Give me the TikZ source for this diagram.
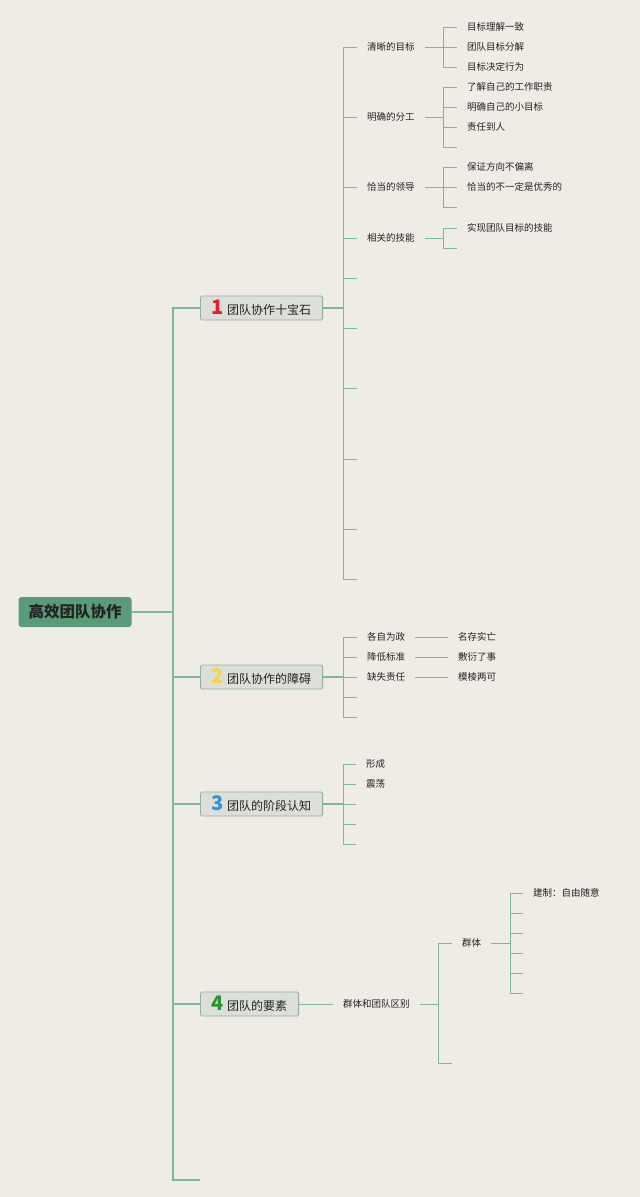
\documentclass[tikz,border=0pt]{standalone}
\usepackage{fontspec}
\setmainfont{Noto Sans CJK SC}
\usetikzlibrary{positioning, calc}
\definecolor{paper}{RGB}{239,236,230}
\definecolor{branch}{RGB}{128,182,156}
\definecolor{rootfill}{RGB}{90,156,121}
\definecolor{topicfill}{RGB}{220,222,218}
\definecolor{topicdraw}{RGB}{148,176,160}
\definecolor{inktext}{RGB}{35,35,35}
\definecolor{numred}{RGB}{222,32,52}
\definecolor{numyellow}{RGB}{246,214,72}
\definecolor{numblue}{RGB}{38,150,222}
\definecolor{numgreen}{RGB}{40,150,45}
\newcommand{\leaffont}{\fontsize{9.5}{11}\selectfont}
\newcommand{\topicnum}[2]{{\color{#1}\fontsize{20}{20}\selectfont\bfseries #2}\hspace{3pt}}
\tikzset{
	rootbox/.style={rectangle, fill=rootfill, rounded corners=3pt,
		minimum height=30pt, inner xsep=10pt, inner ysep=0pt,
		font=\fontsize{15.5}{18}\selectfont\bfseries, text=inktext},
	topicbox/.style={rectangle, draw=topicdraw, line width=0.9pt, fill=topicfill,
		rounded corners=1.5pt, minimum height=24pt, inner xsep=11.5pt, inner ysep=0pt,
		anchor=west, font=\fontsize{12}{14}\selectfont, text=inktext},
	leaf/.style={anchor=west, inner xsep=10pt, inner ysep=1pt,
		font=\leaffont, text=inktext},
	branchline/.style={draw=branch, line width=0.9pt},
	trunkline/.style={draw=branch, line width=1.1pt}
}
\begin{document}
\begin{tikzpicture}[x=1pt, y=-1pt]
	\fill[paper] (0,0) rectangle (640,1197);
	\useasboundingbox (0,0) rectangle (640,1197);

	% root and main topics
	\node[rootbox] (root) at (75,612) {高效团队协作};
	\coordinate (rj) at (173,612);
	\node[topicbox] (t1) at (200,308) {\topicnum{numred}{1}团队协作十宝石};
	\node[topicbox] (t2) at (200,677) {\topicnum{numyellow}{2}团队协作的障碍};
	\node[topicbox] (t3) at (200,804) {\topicnum{numblue}{3}团队的阶段认知};
	\node[topicbox] (t4) at (200,1004) {\topicnum{numgreen}{4}团队的要素};
	\coordinate (tend) at (200,1180);
	\draw[trunkline] (root) -- (rj);
	\foreach \t in {t1.west, t2.west, t3.west, t4.west, tend}
		\draw[trunkline] (rj) |- (\t);

	% 1
	\coordinate (j1) at (343,308);
	\node[leaf] (a1) at (357,47) {清晰的目标};
	\node[leaf] (a2) at (357,117) {明确的分工};
	\node[leaf] (a3) at (357,187) {恰当的领导};
	\node[leaf] (a4) at (357,238) {相关的技能};
	\foreach \y [count=\i] in {278,328,388,459,529,579}
		\coordinate (ae\i) at (357,\y);
	\draw[trunkline] (t1) -- (j1);
	\foreach \c in {a1.west, a2.west, a3.west, a4.west, ae1, ae2, ae3, ae4, ae5, ae6}
		\draw[branchline] (j1) |- (\c);

	\coordinate (ja1) at (443,47);
	\node[leaf] (a11) at (457,27) {目标理解一致};
	\node[leaf] (a12) at (457,47) {团队目标分解};
	\node[leaf] (a13) at (457,67) {目标决定行为};
	\coordinate (ja2) at (443,117);
	\node[leaf] (a21) at (457,87) {了解自己的工作职责};
	\node[leaf] (a22) at (457,107) {明确自己的小目标};
	\node[leaf] (a23) at (457,127) {责任到人};
	\coordinate (a24) at (457,147);
	\coordinate (ja3) at (443,187);
	\node[leaf] (a31) at (457,167) {保证方向不偏离};
	\node[leaf] (a32) at (457,187) {恰当的不一定是优秀的};
	\coordinate (a33) at (457,207);
	\coordinate (ja4) at (443,238);
	\node[leaf] (a41) at (457,228) {实现团队目标的技能};
	\coordinate (a42) at (457,248);
	\foreach \a/\b in {a1/ja1, a2/ja2, a3/ja3, a4/ja4}
		\draw[branchline] (\a) -- (\b);
	\foreach \a/\b in {ja1/a11.west, ja1/a12.west, ja1/a13.west,
			ja2/a21.west, ja2/a22.west, ja2/a23.west, ja2/a24,
			ja3/a31.west, ja3/a32.west, ja3/a33,
			ja4/a41.west, ja4/a42}
		\draw[branchline] (\a) |- (\b);

	% 2
	\coordinate (j2) at (343,677);
	\node[leaf] (b1) at (357,637) {各自为政};
	\node[leaf] (b2) at (357,657) {降低标准};
	\node[leaf] (b3) at (357,677) {缺失责任};
	\coordinate (be1) at (357,697);
	\coordinate (be2) at (357,717);
	\node[leaf] (b11) at (448,637) {名存实亡};
	\node[leaf] (b21) at (448,657) {敷衍了事};
	\node[leaf] (b31) at (448,677) {模棱两可};
	\draw[trunkline] (t2) -- (j2);
	\foreach \c in {b1.west, b2.west, b3.west, be1, be2}
		\draw[branchline] (j2) |- (\c);
	\foreach \a/\b in {b1/b11, b2/b21, b3/b31}
		\draw[branchline] (\a) -- (\b);

	% 3
	\coordinate (j3) at (343,804);
	\node[leaf] (c1) at (356,764) {形成};
	\node[leaf] (c2) at (356,784) {震荡};
	\foreach \y [count=\i] in {804,824,844}
		\coordinate (ce\i) at (356,\y);
	\draw[trunkline] (t3) -- (j3);
	\foreach \c in {c1.west, c2.west, ce1, ce2, ce3}
		\draw[branchline] (j3) |- (\c);

	% 4
	\node[leaf] (d1) at (333,1004) {群体和团队区别};
	\coordinate (j4) at (438,1004);
	\node[leaf] (d11) at (452,943) {群体};
	\coordinate (d12) at (452,1063);
	\coordinate (j5) at (510,943);
	\node[leaf] (d111) at (523,893) {建制：自由随意};
	\foreach \y [count=\i] in {913,933,953,973,993}
		\coordinate (de\i) at (523,\y);
	\draw[branchline] (t4) -- (d1);
	\draw[branchline] (d1) -- (j4);
	\draw[branchline] (d11) -- (j5);
	\foreach \c in {d11.west, d12}
		\draw[branchline] (j4) |- (\c);
	\foreach \c in {d111.west, de1, de2, de3, de4, de5}
		\draw[branchline] (j5) |- (\c);
\end{tikzpicture}
\end{document}
